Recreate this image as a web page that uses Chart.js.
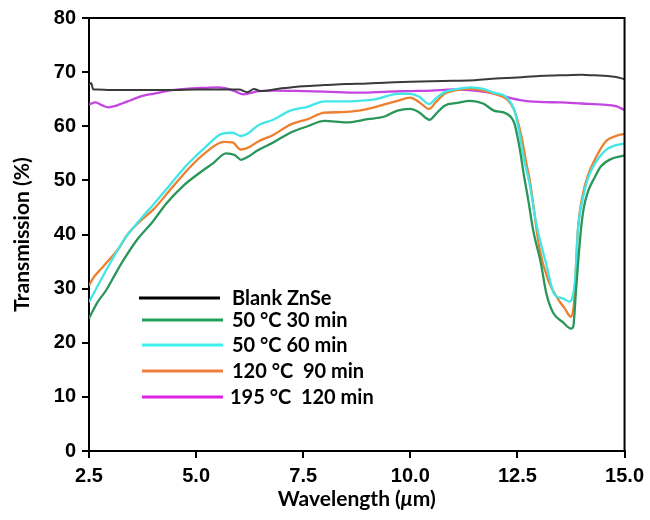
<!DOCTYPE html>
<html>
<head>
<meta charset="utf-8">
<script src="https://cdn.jsdelivr.net/npm/chart.js@4.4.1/dist/chart.umd.min.js"></script>
<style>
  html, body { margin: 0; padding: 0; background: #fff; }
  canvas { display: block; }
</style>
</head>
<body>
<canvas id="c" width="650" height="520"></canvas>
<script>
// ---------- data (wavelength in µm, transmission in %) ----------
const seriesLabels = ['Blank ZnSe', '50 °C 30 min', '50 °C 60 min', '120 °C  90 min', '195 °C  120 min'];
const xTickValues = [2.5, 5.0, 7.5, 10.0, 12.5, 15.0];
const yTickValues = [0, 10, 20, 30, 40, 50, 60, 70, 80];
const xAxisTitle = ['Wavelength (', 'μ', 'm)'];
const yAxisTitle = 'Transmission (%)';

const blankZnSe = [[2.5,67.6],[2.55,68.0],[2.6,66.8],[2.7,66.8],[3.0,66.7],[3.5,66.7],[4.0,66.7],[4.5,66.7],[5.0,66.8],[5.5,66.8],[6.0,66.8],[6.2,66.3],[6.35,66.9],[6.5,66.5],[7.0,67.0],[7.5,67.4],[8.0,67.6],[8.5,67.8],[9.0,67.9],[9.5,68.1],[10.0,68.2],[10.5,68.3],[11.0,68.4],[11.5,68.5],[12.0,68.8],[12.5,69.0],[13.0,69.3],[13.5,69.4],[14.0,69.5],[14.3,69.4],[14.6,69.3],[14.8,69.1],[15.0,68.7]];

const c50m30 = [[2.5,24.5],[2.7,27.5],[2.9,29.7],[3.1,32.5],[3.3,35.2],[3.6,38.8],[4.0,42.5],[4.3,45.7],[4.7,49.0],[5.1,51.5],[5.4,53.2],[5.7,55.0],[5.9,54.7],[6.05,53.8],[6.2,54.3],[6.45,55.6],[6.8,57.0],[7.2,58.8],[7.6,60.0],[8.0,61.0],[8.5,60.7],[9.0,61.3],[9.4,61.8],[9.7,62.9],[10.0,63.2],[10.2,62.6],[10.45,61.2],[10.6,62.3],[10.8,63.8],[11.1,64.3],[11.4,64.7],[11.7,64.2],[11.95,62.9],[12.25,62.3],[12.43,60.5],[12.55,56.0],[12.65,51.0],[12.75,46.5],[12.87,40.7],[13.05,34.6],[13.17,29.3],[13.33,25.6],[13.56,23.8],[13.75,22.6],[13.8,22.9],[13.87,30.0],[13.98,40.7],[14.05,45.0],[14.15,48.0],[14.3,50.5],[14.45,52.6],[14.7,54.0],[15.0,54.6]];

const c50m60 = [[2.5,27.5],[2.7,30.5],[2.9,33.4],[3.1,36.2],[3.36,39.5],[3.7,42.8],[4.0,45.5],[4.3,48.3],[4.6,51.2],[4.84,53.3],[5.2,56.0],[5.6,58.6],[5.85,58.8],[6.04,58.2],[6.2,58.6],[6.45,60.2],[6.8,61.2],[7.2,62.9],[7.6,63.6],[8.0,64.6],[8.4,64.6],[8.8,64.7],[9.2,65.0],[9.7,66.0],[10.0,66.0],[10.2,65.5],[10.44,64.1],[10.6,65.2],[10.8,66.3],[11.1,66.9],[11.4,67.2],[11.7,66.9],[11.95,66.2],[12.25,65.3],[12.43,62.9],[12.55,58.6],[12.65,54.0],[12.78,49.5],[12.94,42.0],[13.17,34.6],[13.36,29.0],[13.56,28.2],[13.72,27.6],[13.78,28.3],[13.85,32.0],[13.91,40.7],[14.03,46.8],[14.15,50.5],[14.3,53.0],[14.56,55.6],[14.8,56.5],[15.0,56.8]];

const c120m90 = [[2.5,30.6],[2.6,32.0],[2.8,33.8],[3.0,35.6],[3.2,37.5],[3.4,40.0],[3.7,42.5],[4.0,44.6],[4.4,48.3],[4.84,52.3],[5.2,55.0],[5.65,57.1],[5.85,57.0],[6.04,55.7],[6.2,56.0],[6.45,57.2],[6.8,58.4],[7.2,60.3],[7.6,61.3],[8.0,62.5],[8.4,62.6],[8.8,62.9],[9.2,63.6],[9.7,64.7],[10.0,65.3],[10.2,64.5],[10.44,63.2],[10.6,64.5],[10.8,66.0],[11.1,66.7],[11.4,66.9],[11.7,66.6],[11.95,66.0],[12.25,65.0],[12.43,62.9],[12.6,57.9],[12.7,53.5],[12.8,49.5],[13.01,37.6],[13.22,31.5],[13.47,27.8],[13.6,26.4],[13.75,24.8],[13.82,27.3],[13.91,40.7],[14.03,47.6],[14.15,51.0],[14.26,53.1],[14.56,57.2],[14.8,58.2],[15.0,58.6]];

const c195m120 = [[2.5,64.0],[2.65,64.4],[2.8,63.9],[2.95,63.5],[3.1,63.7],[3.3,64.3],[3.5,64.9],[3.75,65.6],[4.0,66.0],[4.3,66.5],[4.6,66.8],[4.9,67.0],[5.2,67.1],[5.5,67.2],[5.7,67.0],[5.9,66.5],[6.1,65.9],[6.25,66.1],[6.45,66.5],[6.8,66.6],[7.5,66.5],[8.0,66.4],[8.8,66.2],[9.5,66.4],[10.0,66.5],[10.5,66.6],[11.0,66.8],[11.6,66.5],[12.0,66.0],[12.3,65.3],[12.6,64.8],[13.0,64.5],[13.5,64.4],[14.0,64.2],[14.5,64.0],[14.8,63.7],[15.0,63.0]];

const seriesData = [blankZnSe, c50m30, c50m60, c120m90, c195m120];
const seriesColors = ['#3a3a3a', '#2b9659', '#41e6e6', '#ee7f2e', '#c445e0'];
const legendColors = ['#000000', '#23a255', '#40f0f0', '#f08040', '#e020e0'];

// ---------- chart ----------
const toXY = arr => arr.map(p => ({ x: p[0], y: p[1] }));

const frameAndLegend = {
  id: 'frameAndLegend',
  afterDraw(chart) {
    const { ctx, chartArea: a } = chart;
    ctx.save();
    // box frame (top and right sides)
    ctx.strokeStyle = '#000';
    ctx.lineWidth = 2;
    ctx.beginPath();
    ctx.moveTo(a.left, a.top); ctx.lineTo(a.right, a.top); ctx.lineTo(a.right, a.bottom);
    ctx.stroke();
    // legend inside the plot
    const rowsY = [298, 320, 345, 371, 397];
    ctx.font = 'bold 20px Lato, "Open Sans", sans-serif';
    ctx.textBaseline = 'middle';
    ctx.textAlign = 'left';
    chart.data.datasets.forEach((ds, i) => {
      const y = rowsY[i];
      ctx.strokeStyle = legendColors[i];
      ctx.lineWidth = 3;
      ctx.beginPath();
      ctx.moveTo(i === 0 ? 139 : 142, y);
      ctx.lineTo(i === 0 ? 220 : 223, y);
      ctx.stroke();
      ctx.fillStyle = '#000';
      ctx.fillText(ds.label, i === 4 ? 230 : 232, y + 1);
    });
    // x-axis title with italic mu
    const fonts = ['bold 21px Lato, "Open Sans", sans-serif', 'italic bold 21px Lato, "Open Sans", sans-serif', 'bold 21px Lato, "Open Sans", sans-serif'];
    const widths = xAxisTitle.map((t, i) => { ctx.font = fonts[i]; return ctx.measureText(t).width; });
    const total = widths.reduce((s, w) => s + w, 0);
    let x = (a.left + a.right) / 2 - total / 2;
    ctx.fillStyle = '#000';
    xAxisTitle.forEach((t, i) => { ctx.font = fonts[i]; ctx.fillText(t, x, 499); x += widths[i]; });
    // y-axis title
    ctx.translate(22, (a.top + a.bottom) / 2);
    ctx.rotate(-Math.PI / 2);
    ctx.textAlign = 'center';
    ctx.font = 'bold 21px Lato, "Open Sans", sans-serif';
    ctx.fillText(yAxisTitle, 0, 0);
    ctx.restore();
  }
};

new Chart(document.getElementById('c'), {
  type: 'line',
  data: {
    datasets: seriesData.map((d, i) => ({
      label: seriesLabels[i],
      data: toXY(d),
      borderColor: seriesColors[i],
      backgroundColor: seriesColors[i],
      borderWidth: i === 0 ? 2 : 2.3,
      pointRadius: 0,
      cubicInterpolationMode: 'monotone',
      fill: false
    }))
  },
  options: {
    responsive: false,
    animation: false,
    layout: { padding: { top: 17, right: 21, left: 0, bottom: 0 } },
    plugins: { legend: { display: false }, tooltip: { enabled: false } },
    scales: {
      x: {
        type: 'linear',
        min: xTickValues[0],
        max: xTickValues[xTickValues.length - 1],
        afterBuildTicks: s => { s.ticks = xTickValues.map(v => ({ value: v })); },
        afterFit: s => { s.height = 69; },
        ticks: {
          color: '#000',
          padding: 6,
          font: { family: '"Liberation Sans", Arial, sans-serif', size: 20, weight: 'bold' },
          callback: v => Number(v).toFixed(1),
          maxRotation: 0
        },
        grid: { display: true, drawOnChartArea: false, drawTicks: true, tickLength: 7, color: '#000', lineWidth: 2 },
        border: { display: true, color: '#000', width: 2 },
        title: { display: false }
      },
      y: {
        min: yTickValues[0],
        max: yTickValues[yTickValues.length - 1],
        afterBuildTicks: s => { s.ticks = yTickValues.map(v => ({ value: v })); },
        afterFit: s => { s.width = 89; },
        ticks: {
          color: '#000',
          padding: 6,
          font: { family: '"Liberation Sans", Arial, sans-serif', size: 20, weight: 'bold' }
        },
        grid: { display: true, drawOnChartArea: false, drawTicks: true, tickLength: 7, color: '#000', lineWidth: 2 },
        border: { display: true, color: '#000', width: 2 },
        title: { display: false }
      }
    }
  },
  plugins: [frameAndLegend]
});
</script>
</body>
</html>
